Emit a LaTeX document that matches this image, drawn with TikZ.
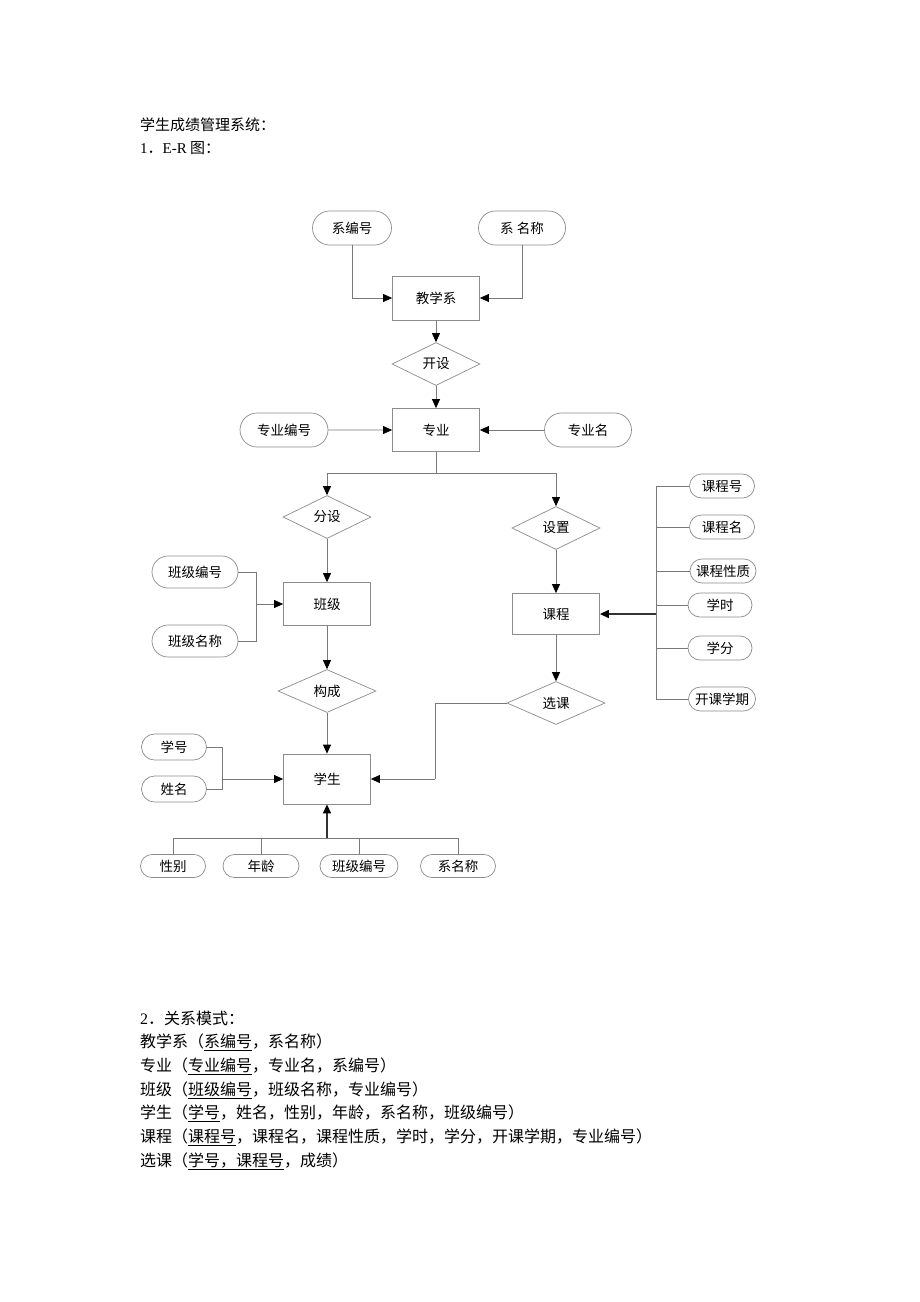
\documentclass[tikz,border=0pt]{standalone}
\usepackage{fontspec}
\setmainfont{Liberation Serif}
\newfontfamily\cjk{Noto Sans CJK SC}
\usetikzlibrary{arrows.meta,shapes.geometric,shapes.misc}
\tikzset{
  ent/.style={draw=gray!90, line width=0.8pt, minimum width=87pt, minimum height=44pt, font=\cjk\fontsize{13.5}{15}\selectfont},
  rel/.style={draw=gray!90, line width=0.7pt, diamond, aspect=2.05, minimum width=88pt, minimum height=43pt, inner sep=0pt, font=\cjk\fontsize{13.5}{15}\selectfont},
  attr/.style={draw=gray!90, line width=0.7pt, rounded rectangle, inner sep=0pt, font=\cjk\fontsize{13.5}{15}\selectfont},
  ln/.style={draw=gray!95!black, line width=0.8pt},
  arr/.style={ln, -{Triangle[length=9pt,width=8pt,black]}},
  tarr/.style={draw=black!80, line width=1.4pt, -{Triangle[length=9pt,width=8pt,black]}},
  txt/.style={anchor=west, inner sep=0pt, font=\cjk\fontsize{15}{18}\selectfont},
  stxt/.style={anchor=west, inner sep=0pt, font=\cjk\fontsize{16}{18}\selectfont},
}
\begin{document}
\begin{tikzpicture}[x=1pt,y=-1pt]
\useasboundingbox[fill=white] (0,0) rectangle (920,1302);
% header
\node[txt] (t1) at (140,125) {学生成绩管理系统：};
\node[txt] (t2) at (140,148) {{\rmfamily 1}．{\rmfamily E-R} 图：};
% entities
\node[ent] (jxx) at (436,298) {教学系};
\node[ent, minimum height=43pt] (zy) at (436,430) {专业};
\node[ent, minimum height=43pt] (bj) at (327,604) {班级};
\node[ent, minimum height=41pt] (kc) at (556,614) {课程};
\node[ent, minimum height=50pt] (xs) at (327,779) {学生};
% relations
\node[rel] (ks) at (436,364) {开设};
\node[rel] (fs) at (327,517) {分设};
\node[rel] (sz) at (556,528) {设置};
\node[rel, minimum width=98pt] (gc) at (327,691) {构成};
\node[rel, minimum width=98pt] (xk) at (556,703) {选课};
% attributes
\node[attr, minimum width=79pt, minimum height=34pt] (xbh) at (352,228) {系编号};
\node[attr, minimum width=87pt, minimum height=34pt] (xmc) at (522,228) {系 名称};
\node[attr, minimum width=88pt, minimum height=34pt] (zybh) at (284,430) {专业编号};
\node[attr, minimum width=87pt, minimum height=34pt] (zym) at (588,430) {专业名};
\node[attr, minimum width=86pt, minimum height=32pt] (bjbh) at (195,572) {班级编号};
\node[attr, minimum width=86pt, minimum height=32pt] (bjmc) at (195,641) {班级名称};
\node[attr, minimum width=65pt, minimum height=26pt] (xh) at (174,747) {学号};
\node[attr, minimum width=65pt, minimum height=26pt] (xm) at (174,789) {姓名};
\node[attr, minimum width=65pt, minimum height=24pt] (kch) at (722,486) {课程号};
\node[attr, minimum width=65pt, minimum height=24pt] (kcm) at (722,527) {课程名};
\node[attr, minimum width=66pt, minimum height=24pt] (kcxz) at (723,571) {课程性质};
\node[attr, minimum width=64pt, minimum height=24pt] (xsh) at (720,605) {学时};
\node[attr, minimum width=64pt, minimum height=24pt] (xf) at (720,648) {学分};
\node[attr, minimum width=67pt, minimum height=24pt] (kkxq) at (722,699) {开课学期};
\node[attr, minimum width=65pt, minimum height=23pt] (xb) at (173,866) {性别};
\node[attr, minimum width=76pt, minimum height=23pt] (nl) at (261,866) {年龄};
\node[attr, minimum width=78pt, minimum height=23pt] (bjbh2) at (359,866) {班级编号};
\node[attr, minimum width=75pt, minimum height=23pt] (xmc2) at (458,866) {系名称};
% junctions
\coordinate (j1) at (436,473);
\coordinate (j2) at (256,604);
\coordinate (j3) at (222,779);
\coordinate (j4) at (435,779);
\coordinate (j5) at (656,614);
\coordinate (j5t) at (656,486);
\coordinate (j5b) at (656,699);
\coordinate (j6) at (327,838);
\coordinate (j6l) at (173,838);
\coordinate (j6r) at (458,838);
% connectors
\draw[arr] (xbh.south) |- (jxx.west);
\draw[arr] (xmc.south) |- (jxx.east);
\draw[arr] (jxx) -- (ks);
\draw[arr] (ks) -- (zy);
\draw[arr] (zybh) -- (zy);
\draw[arr] (zym) -- (zy);
\draw[ln] (zy.south) -- (j1);
\draw[arr] (j1) -| (fs.north);
\draw[arr] (j1) -| (sz.north);
\draw[arr] (fs) -- (bj);
\draw[arr] (sz) -- (kc);
\draw[ln] (bjbh.east) -| (j2);
\draw[ln] (bjmc.east) -| (j2);
\draw[arr] (j2) -- (bj.west);
\draw[arr] (bj) -- (gc);
\draw[arr] (gc) -- (xs);
\draw[ln] (xh.east) -| (j3);
\draw[ln] (xm.east) -| (j3);
\draw[arr] (j3) -- (xs.west);
\draw[arr] (kc) -- (xk);
\draw[ln] (xk.west) -| (j4);
\draw[arr] (j4) -- (xs.east);
\draw[ln] (j5t) -- (j5b);
\foreach \a in {kch,kcm,kcxz,xsh,xf,kkxq} \draw[ln] (\a.west) -- (\a.west -| j5);
\draw[tarr] (j5) -- (kc.east);
\draw[ln] (j6l) -- (j6r);
\foreach \a in {xb,nl,bjbh2,xmc2} \draw[ln] (\a.north) -- (\a.north |- j6);
\draw[tarr] (j6) -- (xs.south);
% relational schema
\node[stxt] (s0) at (140,1018) {{\rmfamily 2}．关系模式：};
\node[stxt] (s1) at (140,1042) {教学系（\underline{系编号}，系名称）};
\node[stxt] (s2) at (140,1066) {专业（\underline{专业编号}，专业名，系编号）};
\node[stxt] (s3) at (140,1090) {班级（\underline{班级编号}，班级名称，专业编号）};
\node[stxt] (s4) at (140,1113) {学生（\underline{学号}，姓名，性别，年龄，系名称，班级编号）};
\node[stxt] (s5) at (140,1137) {课程（\underline{课程号}，课程名，课程性质，学时，学分，开课学期，专业编号）};
\node[stxt] (s6) at (140,1161) {选课（\underline{学号，课程号}，成绩）};
\end{tikzpicture}
\end{document}
